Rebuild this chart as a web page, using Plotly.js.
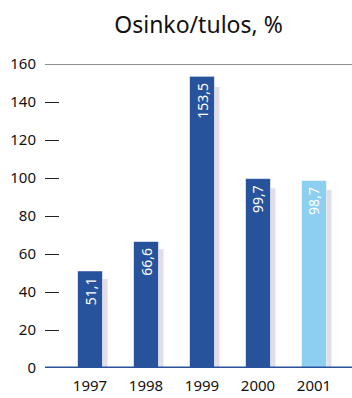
<!DOCTYPE html>
<html>
<head>
<meta charset="utf-8">
<script src="https://cdn.plot.ly/plotly-3.0.1.min.js"></script>
<style>html,body{margin:0;padding:0;background:#fff;}#chart{width:352px;height:398px;}</style>
</head>
<body>
<div id="chart"></div>
<script>
const years = ['1997', '1998', '1999', '2000', '2001'];
const payoutRatio = [51.1, 66.6, 153.5, 99.7, 98.7];
const shadowValues = [46.8, 62.5, 147.9, 94.6, 93.7];
const barColors = ['#26539b', '#26539b', '#26539b', '#26539b', '#8ccff0'];
const yTicks = [0, 20, 40, 60, 80, 100, 120, 140, 160];
const labels = payoutRatio.map(v => v.toFixed(1).replace('.', ',') + '\u00a0');

const barW = 0.446;
const shadowShift = 0.09;

const shadow = {
  type: 'bar', x: years, y: shadowValues,
  width: barW, offset: -barW / 2 + shadowShift,
  marker: {color: '#e2dde9'},
  hoverinfo: 'skip', showlegend: false
};
const bars = {
  type: 'bar', x: years, y: payoutRatio,
  width: barW, offset: -barW / 2,
  marker: {color: barColors, line: {color: '#ffffff', width: 0.6}},
  text: labels, textposition: 'inside', textangle: -90,
  insidetextanchor: 'end', constraintext: 'none',
  textfont: {family: 'Noto Sans', size: 14, color: '#ffffff'},
  showlegend: false
};

const layout = {
  width: 352, height: 398,
  margin: {l: 45, r: 0, t: 64, b: 30},
  paper_bgcolor: '#ffffff', plot_bgcolor: '#ffffff',
  barmode: 'overlay',
  font: {family: 'Noto Sans', color: '#111111'},
  title: {text: 'Osinko/tulos, %', x: 0.5, xref: 'paper', y: 0.937, yanchor: 'middle',
          font: {family: 'Noto Sans', size: 23, color: '#111111'}},
  xaxis: {type: 'category', range: [-0.804, 4.679], showgrid: false, showline: false,
          ticks: '', ticklabelstandoff: 7,
          tickfont: {size: 15, color: '#111111'}, fixedrange: true},
  yaxis: {range: [0, 160], tickvals: yTicks, ticktext: yTicks.map(String),
          showgrid: false, zeroline: false, showline: false,
          ticks: 'inside', ticklen: 14, tickwidth: 1, tickcolor: '#222222',
          ticklabelstandoff: 8,
          tickfont: {size: 15, color: '#111111'}, fixedrange: true},
  shapes: [
    {type: 'line', xref: 'paper', yref: 'y', x0: 0, x1: 1, y0: 160, y1: 160,
     line: {color: '#222222', width: 1}},
    {type: 'line', xref: 'paper', yref: 'y', x0: 0, x1: 1, y0: 0, y1: 0,
     line: {color: '#26539b', width: 3}, layer: 'above'}
  ]
};

Plotly.newPlot('chart', [shadow, bars], layout, {displayModeBar: false, staticPlot: true});
</script>
</body>
</html>
